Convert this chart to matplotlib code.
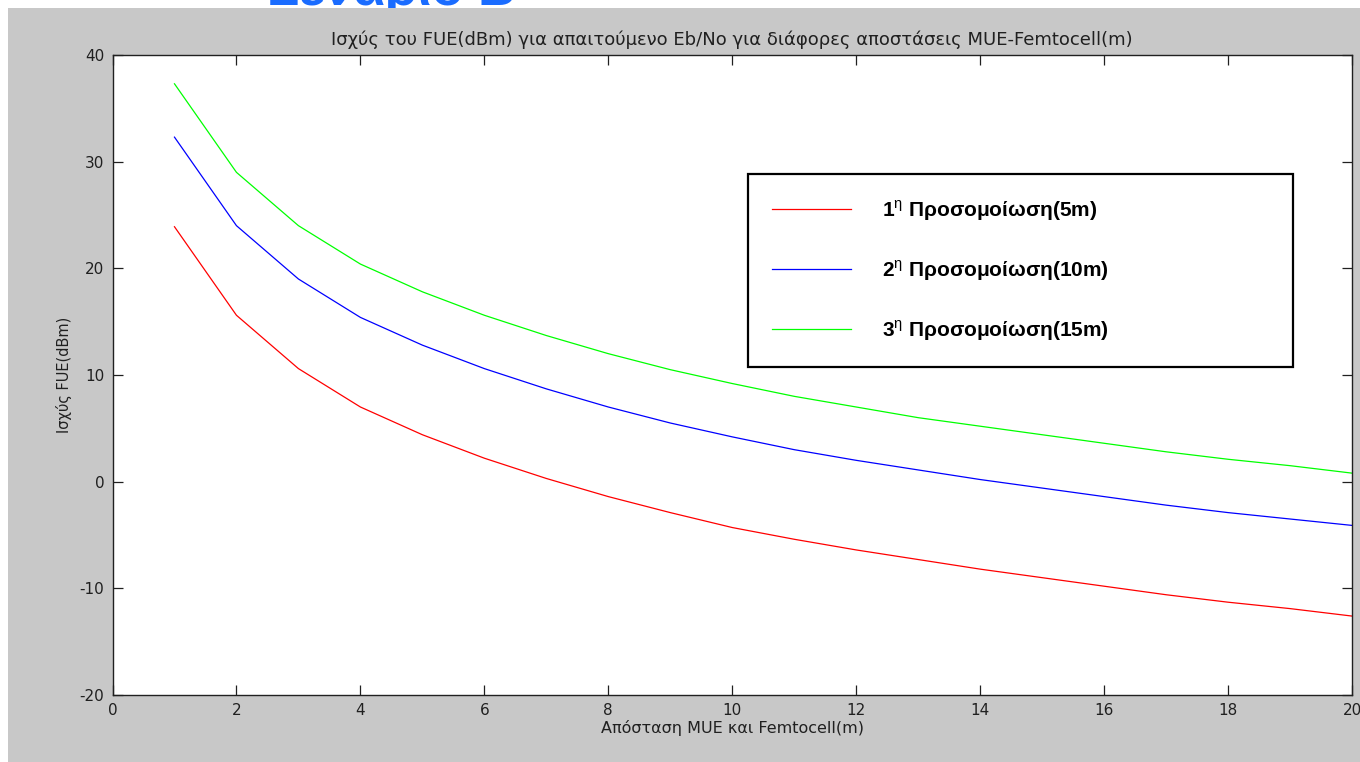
import matplotlib
matplotlib.use("Agg")
import matplotlib.pyplot as plt
from matplotlib.patches import Rectangle

# distance MUE - femtocell (m)
distance = list(range(1, 21))

# required FUE power (dBm) per simulation
power_5m = [23.9, 15.6, 10.6, 7.0, 4.4, 2.2, 0.3, -1.4, -2.9, -4.3,
            -5.4, -6.4, -7.3, -8.2, -9.0, -9.8, -10.6, -11.3, -11.9, -12.6]
power_10m = [32.3, 24.0, 19.0, 15.4, 12.8, 10.6, 8.7, 7.0, 5.5, 4.2,
             3.0, 2.0, 1.1, 0.2, -0.6, -1.4, -2.2, -2.9, -3.5, -4.1]
power_15m = [37.3, 29.0, 24.0, 20.4, 17.8, 15.6, 13.7, 12.0, 10.5, 9.2,
             8.0, 7.0, 6.0, 5.2, 4.4, 3.6, 2.8, 2.1, 1.5, 0.8]

labels = [r"1$^{\mathrm{η}}$ Προσομοίωση(5m)",
          r"2$^{\mathrm{η}}$ Προσομοίωση(10m)",
          r"3$^{\mathrm{η}}$ Προσομοίωση(15m)"]
colors = ["#ff0000", "#0000ff", "#00ff00"]

xticks = list(range(0, 21, 2))
yticks = list(range(-20, 41, 10))

plt.rcParams["font.family"] = ["DejaVu Sans"]
plt.rcParams["mathtext.fontset"] = "custom"
plt.rcParams["mathtext.rm"] = "Liberation Sans"
plt.rcParams["axes.unicode_minus"] = False

W, H = 1360, 762
fig = plt.figure(figsize=(W / 100, H / 100), dpi=100, facecolor="white")

# grey window background, leaving a thin white margin top and left
fig.patches.append(Rectangle((8 / W, 0), 1, 1 - 8 / H, transform=fig.transFigure,
                             facecolor="#c8c8c8", edgecolor="none", zorder=-10))
# heading sits above the window, the grey covers whatever hangs below
fig.text(268 / W, 1 - 5 / H, "Σενάριο Β", color="#1a6cff", fontsize=37.5,
         fontweight="bold", family="Liberation Sans", ha="left", va="baseline",
         zorder=-20)

ax = fig.add_axes([112.5 / W, 1 - 695 / H, (1352 - 112.5) / W, (695 - 55) / H])
ax.set_facecolor("white")

for y, c, lab in zip([power_5m, power_10m, power_15m], colors, labels):
    ax.plot(distance, y, color=c, linewidth=0.9, label=lab)

ax.set_xlim(0, 20)
ax.set_ylim(-20, 40)
ax.set_xticks(xticks)
ax.set_yticks(yticks)
ax.tick_params(direction="in", length=7.5, width=0.9, top=True, right=True,
               labelsize=11, pad=6, colors="#202020")
for s in ax.spines.values():
    s.set_linewidth(1.0)
    s.set_color("#202020")

ax.set_title("Ισχύς του FUE(dBm) για απαιτούμενο Eb/No για διάφορες αποστάσεις MUE-Femtocell(m)",
             fontsize=13, pad=7, color="#202020")
ax.set_xlabel("Απόσταση MUE και Femtocell(m)", fontsize=11.5, labelpad=1, color="#202020")
ax.set_ylabel("Ισχύς FUE(dBm)", fontsize=10.5, labelpad=5, color="#202020")

leg = ax.legend(loc="upper left",
                bbox_to_anchor=((748 - 112.5) / (1352 - 112.5), (695 - 174) / (695 - 55),
                                (1293 - 748) / (1352 - 112.5), 0),
                mode="expand", fancybox=False, framealpha=1, edgecolor="black",
                prop={"family": "Liberation Sans", "weight": "bold", "size": 15},
                handlelength=3.8, handletextpad=1.5, labelspacing=1.7,
                borderpad=1.15, borderaxespad=0)
leg.get_frame().set_linewidth(1.6)

fig.savefig("out.png", dpi=100, facecolor=fig.get_facecolor())
